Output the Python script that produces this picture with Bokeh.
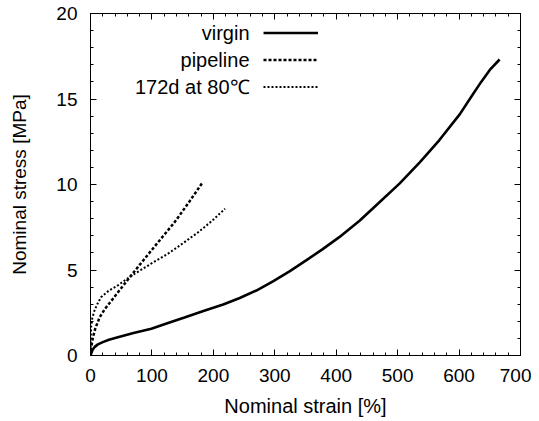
from bokeh.plotting import figure
from bokeh.models import (LinearAxis, Range1d, SingleIntervalTicker, Legend, LegendItem, Label)
from bokeh.core.properties import value
from bokeh.embed import file_html
from bokeh.resources import INLINE

# ---- data ----
virgin_strain = [0, 3, 6.5, 12, 20, 30, 44.5, 70, 99, 125, 153, 185, 216, 243, 270, 297, 324,
                 351, 378, 405, 438, 470, 503, 536, 568, 601, 622, 636, 650, 666]
virgin_stress = [0, 0.3, 0.49, 0.65, 0.78, 0.92, 1.07, 1.32, 1.56, 1.88, 2.22, 2.62, 2.98, 3.36,
                 3.8, 4.33, 4.92, 5.56, 6.22, 6.92, 7.88, 8.95, 10.05, 11.3, 12.6, 14.1, 15.25,
                 16.0, 16.7, 17.31]

pipeline_strain = [0, 1, 4, 8, 15, 24, 34, 48, 64, 80, 99, 118, 137, 160, 183]
pipeline_stress = [0, 0.45, 1.07, 1.6, 2.24, 2.75, 3.2, 3.85, 4.58, 5.3, 6.14, 6.97, 7.8, 8.95, 10.15]

aged_strain = [0, 0.3, 1, 3, 6.5, 11, 17, 30, 44.5, 58, 72, 100, 126, 150, 175, 197, 219]
aged_stress = [0, 0.9, 1.66, 2.2, 2.63, 3.0, 3.4, 3.8, 4.1, 4.45, 4.78, 5.4, 5.95, 6.55, 7.2, 7.85, 8.58]

series_labels = ["virgin", "pipeline", "172d at 80\u2103"]
x_ticks_major = 100
y_ticks_major = 5

FONT = "Liberation Sans"

p = figure(width=531, height=419, output_backend="svg", toolbar_location=None,
           x_range=Range1d(0, 700), y_range=Range1d(0, 20),
           min_border_left=90, min_border_top=13, min_border_right=11, min_border_bottom=64)
p.background_fill_color = "white"
p.border_fill_color = "white"
p.outline_line_color = "black"
p.outline_line_width = 1
p.xgrid.visible = False
p.ygrid.visible = False

def style_axis(ax, interval, show_labels):
    ax.ticker = SingleIntervalTicker(interval=interval, num_minor_ticks=5)
    ax.major_tick_in = 6
    ax.major_tick_out = 0
    ax.minor_tick_in = 3
    ax.minor_tick_out = 0
    ax.axis_line_color = "black"
    ax.major_tick_line_color = "black"
    ax.minor_tick_line_color = "black"
    ax.major_label_text_font = FONT
    ax.axis_label_text_font = FONT
    ax.axis_label_text_font_style = "normal"
    ax.axis_label_text_color = "black"
    if show_labels:
        ax.major_label_text_color = "black"
        ax.major_label_text_font_size = "19px"
    else:
        ax.major_label_text_color = None
        ax.major_label_text_font_size = "1px"
        ax.major_label_standoff = 0

style_axis(p.xaxis[0], x_ticks_major, True)
style_axis(p.yaxis[0], y_ticks_major, True)
p.xaxis[0].axis_label = "Nominal strain [%]"
p.yaxis[0].axis_label = "Nominal stress [MPa]"
p.xaxis[0].axis_label_text_font_size = "20px"
p.yaxis[0].axis_label_text_font_size = "19px"
p.xaxis[0].major_label_standoff = 13
p.yaxis[0].major_label_standoff = 13
p.xaxis[0].axis_label_standoff = 10
p.yaxis[0].axis_label_standoff = 23

top = LinearAxis()
right = LinearAxis()
style_axis(top, x_ticks_major, False)
style_axis(right, y_ticks_major, False)
p.add_layout(top, "above")
p.add_layout(right, "right")

r1 = p.line(virgin_strain, virgin_stress, line_color="black", line_width=2.6)
r2 = p.line(pipeline_strain, pipeline_stress, line_color="black", line_width=2.5, line_dash="3 2")
r3 = p.line(aged_strain, aged_stress, line_color="black", line_width=2.0, line_dash="2 2")

legend = Legend(items=[LegendItem(label=value("\u00a0"), renderers=[r]) for r in (r1, r2, r3)],
                location=(173, 255), glyph_width=55, glyph_height=27, label_width=0,
                label_height=27, label_standoff=0, spacing=0, padding=0, margin=0,
                label_text_font_size="10px", border_line_color=None,
                background_fill_alpha=0)
p.add_layout(legend)

rows_y = [323, 296, 269]
for txt, yy in zip(series_labels, rows_y):
    p.add_layout(Label(x=159, y=yy, x_units="screen", y_units="screen", text=txt,
                       text_align="right", text_baseline="middle",
                       text_font=FONT, text_font_size="20px", text_color="black"))

open("out.html", "w").write(file_html(p, INLINE))
